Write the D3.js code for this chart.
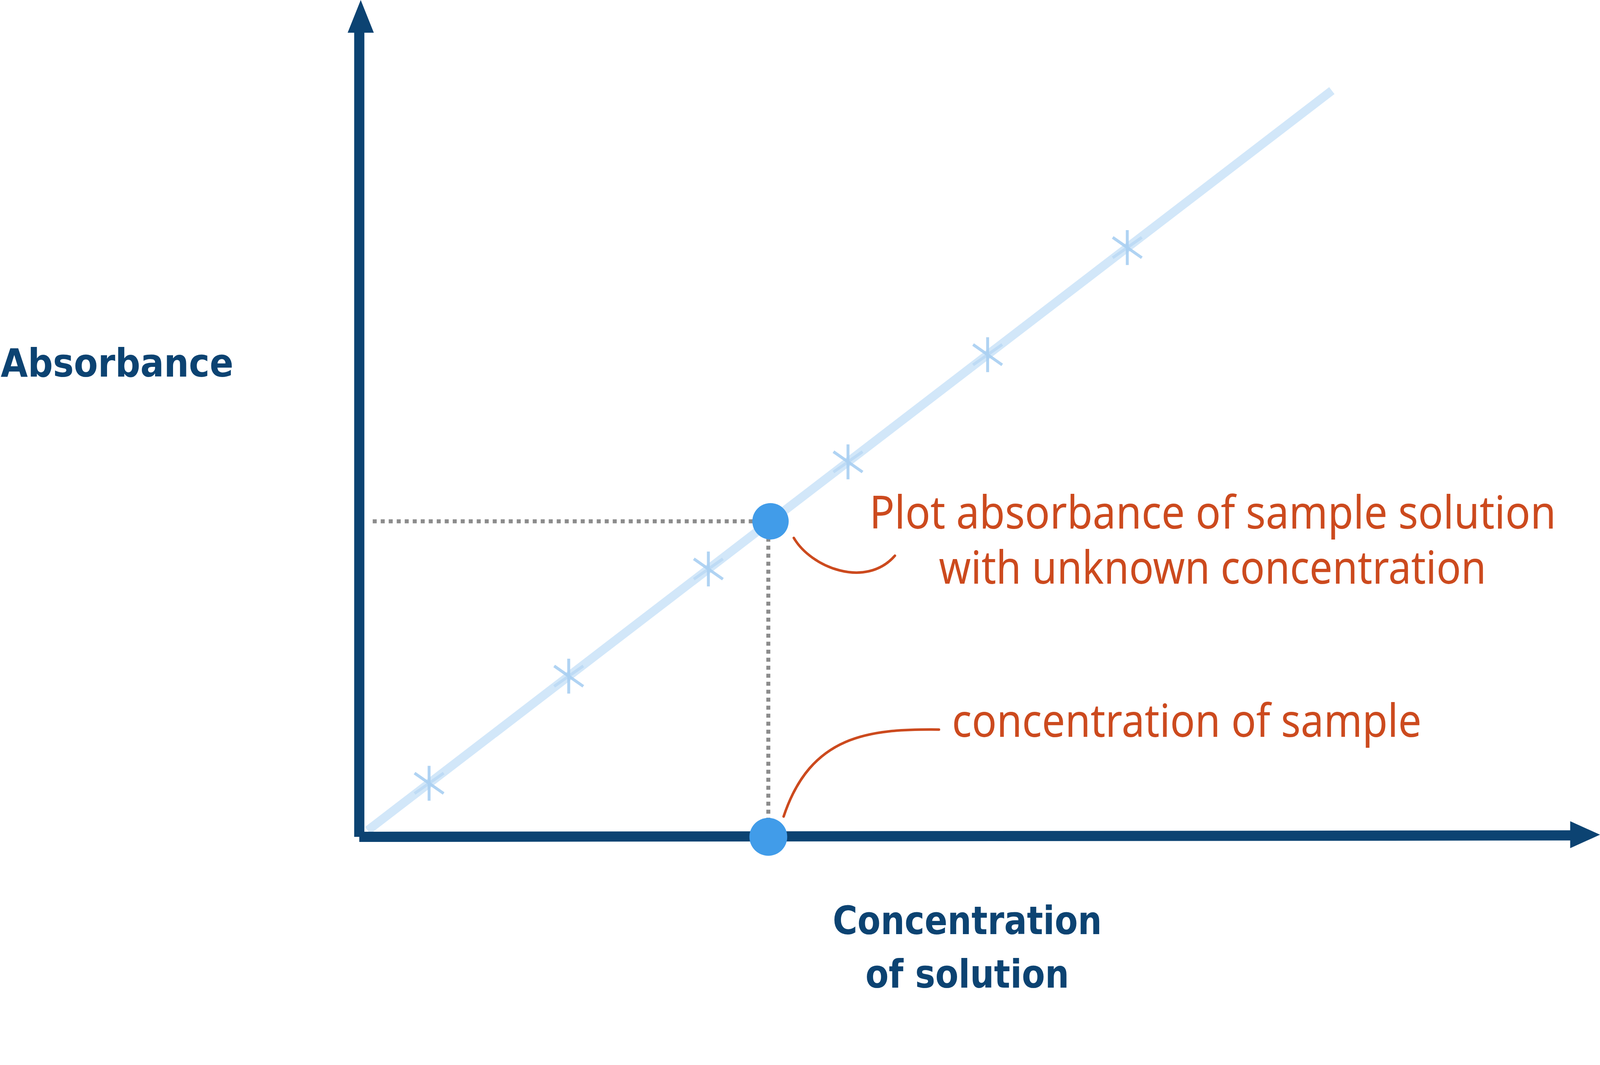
<!DOCTYPE html>
<meta charset="utf-8">
<style>
html, body { margin: 0; padding: 0; background: #fff; overflow: hidden; }
svg { display: block; }
.axis-label { font-family: "DejaVu Sans"; font-stretch: condensed; font-weight: bold; fill: #0c4372; }
.note { font-family: "Noto Sans", sans-serif; fill: #cc4a1e; font-stretch: condensed; }
</style>
<body>
<svg id="chart" viewBox="0 0 4400 2726" preserveAspectRatio="xMinYMin meet" style="width:100vw;height:100vh"></svg>
<script src="https://d3js.org/d3.v7.min.js"></script>
<script>
// standard solutions (concentration, absorbance)
var concentrations = [1, 3, 5, 7, 9, 11];
var absorbances = [0.1, 0.3, 0.5, 0.7, 0.9, 1.1];
var lineEnds = [0.12, 13.93];        // best-fit line extent (concentration)
var sampleAbsorbance = 0.589;
var sampleConcentration = 5.89;

var svg = d3.select("#chart");
var axisColor = "#0c4372";

var x = d3.scaleLinear().domain([0, 1]).range([988, 988 + 192]);
var y = d3.scaleLinear().domain([0, 1]).range([2301, 2301 - 1473]);

// best fit line
svg.append("line")
  .attr("x1", x(lineEnds[0])).attr("y1", y(lineEnds[0] * 0.1))
  .attr("x2", x(lineEnds[1])).attr("y2", y(lineEnds[1] * 0.1))
  .attr("stroke", "#d2e7f9").attr("stroke-width", 24);

// crosses for standards
var cross = svg.append("g").selectAll("g")
  .data(concentrations.map(function(c, i) { return {c: c, a: absorbances[i]}; }))
  .enter().append("g")
  .attr("transform", function(d) { return "translate(" + x(d.c) + "," + y(d.a) + ")"; })
  .attr("stroke", "#a8cff2").attr("stroke-width", 8).attr("opacity", 0.9);
cross.append("line").attr("x1", 0).attr("y1", -48).attr("x2", 0).attr("y2", 48);
cross.append("line").attr("x1", -40).attr("y1", -28).attr("x2", 40).attr("y2", 28);
cross.append("line").attr("x1", -40).attr("y1", 28).attr("x2", 40).attr("y2", -28).attr("opacity", 0.5);

// dotted guides
svg.append("line")
  .attr("x1", 1025).attr("y1", y(sampleAbsorbance))
  .attr("x2", x(sampleConcentration) - 40).attr("y2", y(sampleAbsorbance))
  .attr("stroke", "#8c8c8c").attr("stroke-width", 11).attr("stroke-dasharray", "11,11");
svg.append("line")
  .attr("x1", x(sampleConcentration) - 6).attr("y1", y(sampleAbsorbance) + 45)
  .attr("x2", x(sampleConcentration) - 6).attr("y2", y(0) - 40)
  .attr("stroke", "#8c8c8c").attr("stroke-width", 11).attr("stroke-dasharray", "11,11");

// axes
svg.append("path")
  .attr("d", "M" + x(0) + "," + y(0) + " L" + x(0) + ",85 M" + x(0) + "," + y(0) + " L4325," + (y(0) - 4))
  .attr("fill", "none").attr("stroke", axisColor).attr("stroke-width", 28);
svg.append("path").attr("d", "M956,90 L992,0 L1028,90 Z").attr("fill", axisColor);
svg.append("path").attr("d", "M4318,2258 L4400,2295 L4318,2332 Z").attr("fill", axisColor);

// sample points
svg.append("circle").attr("cx", x(sampleConcentration)).attr("cy", y(sampleAbsorbance))
  .attr("r", 50).attr("fill", "#419ce9");
svg.append("circle").attr("cx", x(sampleConcentration) - 6).attr("cy", y(0))
  .attr("r", 52).attr("fill", "#419ce9");

// leaders
svg.append("path").attr("d", "M2183,1479 C2230,1560 2380,1620 2461,1528")
  .attr("fill", "none").attr("stroke", "#cc4a1e").attr("stroke-width", 7).attr("stroke-linecap", "round");
svg.append("path").attr("d", "M2155,2245 C2230,2020 2390,2004 2582,2006")
  .attr("fill", "none").attr("stroke", "#cc4a1e").attr("stroke-width", 7).attr("stroke-linecap", "round");

// labels
svg.append("text").attr("class", "axis-label").attr("x", 2).attr("y", 1036)
  .attr("font-size", 108).attr("textLength", 640).attr("lengthAdjust", "spacingAndGlyphs").text("Absorbance");
svg.append("text").attr("class", "axis-label").attr("x", 2660).attr("y", 2568)
  .attr("text-anchor", "middle").attr("font-size", 108).attr("textLength", 740).attr("lengthAdjust", "spacingAndGlyphs").text("Concentration");
svg.append("text").attr("class", "axis-label").attr("x", 2660).attr("y", 2716)
  .attr("text-anchor", "middle").attr("font-size", 108).attr("textLength", 560).attr("lengthAdjust", "spacingAndGlyphs").text("of solution");

svg.append("text").attr("class", "note").attr("x", 2391).attr("y", 1453)
  .attr("font-size", 126).attr("textLength", 1888).attr("lengthAdjust", "spacingAndGlyphs")
  .text("Plot absorbance of sample solution");
svg.append("text").attr("class", "note").attr("x", 2582).attr("y", 1605)
  .attr("font-size", 126).attr("textLength", 1505).attr("lengthAdjust", "spacingAndGlyphs")
  .text("with unknown concentration");
svg.append("text").attr("class", "note").attr("x", 2618).attr("y", 2026)
  .attr("font-size", 126).attr("textLength", 1291).attr("lengthAdjust", "spacingAndGlyphs")
  .text("concentration of sample");
</script>
</body>
